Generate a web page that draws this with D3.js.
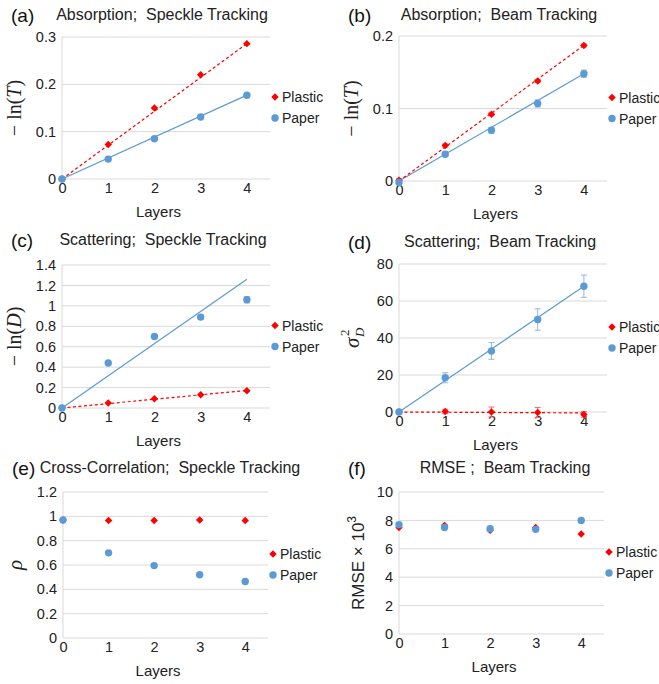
<!DOCTYPE html>
<html>
<head>
<meta charset="utf-8">
<script src="https://cdn.jsdelivr.net/npm/d3@7"></script>
<style>
  body { margin: 0; background: #fff; }
  svg { display: block; font-family: "Liberation Sans", Arial, sans-serif; }
  text { white-space: pre; }
</style>
</head>
<body>
<div id="chart"></div>
<script>
// x categories
const layers = [0, 1, 2, 3, 4];

// (a) absorption, speckle tracking
const absSpecklePlastic = [0, 0.073, 0.150, 0.220, 0.286];
const absSpecklePaper = [0, 0.042, 0.085, 0.131, 0.177];
const absSpeckleSlopes = { plastic: 0.0715, paper: 0.0443 };

// (b) absorption, beam tracking
const absBeamPlastic = [0.001, 0.049, 0.092, 0.138, 0.187];
const absBeamPlasticErr = [0.002, 0.002, 0.002, 0.002, 0.002];
const absBeamPaper = [-0.002, 0.037, 0.070, 0.107, 0.148];
const absBeamPaperErr = [0.002, 0.003, 0.004, 0.005, 0.005];
const absBeamSlopes = { plastic: 0.0468, paper: 0.037 };

// (c) scattering, speckle tracking
const scatSpecklePlastic = [0, 0.05, 0.09, 0.13, 0.17];
const scatSpecklePaper = [0, 0.44, 0.70, 0.89, 1.06];
const scatSpecklePaperErr = [0, 0.01, 0.01, 0.02, 0.03];
const scatSpeckleSlopes = { plastic: 0.043, paper: 0.315 };

// (d) scattering, beam tracking
const scatBeamPlastic = [0, 0.3, 0, -0.3, -1.3];
const scatBeamPlasticErr = [0.5, 1.2, 2.7, 2.7, 1.5];
const scatBeamPaper = [0, 18.5, 33, 50, 68];
const scatBeamPaperErr = [0.5, 2.7, 4.5, 5.8, 6];
const scatBeamSlopes = { plastic: -0.12, paper: 17 };

// (e) cross-correlation, speckle tracking
const ccSpecklePlastic = [0.97, 0.965, 0.965, 0.97, 0.965];
const ccSpecklePaper = [0.97, 0.70, 0.595, 0.52, 0.465];

// (f) RMSE, beam tracking
const rmseBeamPlastic = [7.5, 7.65, 7.3, 7.5, 7.05];
const rmseBeamPaper = [7.7, 7.5, 7.42, 7.37, 8.0];

// y tick labels
const ticksA = [0, 0.1, 0.2, 0.3];
const ticksB = [0, 0.1, 0.2];
const ticksC = [0, 0.2, 0.4, 0.6, 0.8, 1, 1.2, 1.4];
const ticksD = [0, 20, 40, 60, 80];
const ticksE = [0, 0.2, 0.4, 0.6, 0.8, 1, 1.2];
const ticksF = [0, 2, 4, 6, 8, 10];

const seriesNames = ["Plastic", "Paper"];
const red = "#FF0000", blue = "#5B9BD5";

const W = 659, H = 684;
const svg = d3.select("#chart").append("svg").attr("width", W).attr("height", H);

const panels = [
  { tag: "(a)", title: "Absorption;  Speckle Tracking", ylab: "lnT",
    box: [62, 270, 37, 179], titleX: 162, titleY: 20,
    ymax: 0.3, ticks: ticksA, plastic: absSpecklePlastic, paper: absSpecklePaper, slopes: absSpeckleSlopes },
  { tag: "(b)", title: "Absorption;  Beam Tracking", ylab: "lnT",
    box: [399, 607, 36, 181], titleX: 499, titleY: 20,
    ymax: 0.2, ticks: ticksB, plastic: absBeamPlastic, paper: absBeamPaper,
    plasticErr: absBeamPlasticErr, paperErr: absBeamPaperErr, slopes: absBeamSlopes },
  { tag: "(c)", title: "Scattering;  Speckle Tracking", ylab: "lnD",
    box: [62, 270, 265, 408], titleX: 163, titleY: 245,
    ymax: 1.4, ticks: ticksC, plastic: scatSpecklePlastic, paper: scatSpecklePaper,
    paperErr: scatSpecklePaperErr, slopes: scatSpeckleSlopes },
  { tag: "(d)", title: "Scattering;  Beam Tracking", ylab: "sigma",
    box: [399, 607, 264, 412], titleX: 500, titleY: 247,
    ymax: 80, ticks: ticksD, plastic: scatBeamPlastic, paper: scatBeamPaper,
    plasticErr: scatBeamPlasticErr, paperErr: scatBeamPaperErr, slopes: scatBeamSlopes },
  { tag: "(e)", title: "Cross-Correlation;  Speckle Tracking", ylab: "rho",
    box: [63, 268, 492, 638], titleX: 170, titleY: 473,
    ymax: 1.2, ticks: ticksE, plastic: ccSpecklePlastic, paper: ccSpecklePaper },
  { tag: "(f)", title: "RMSE ;  Beam Tracking", ylab: "rmse",
    box: [399, 604, 492, 634], titleX: 505, titleY: 473,
    ymax: 10, ticks: ticksF, plastic: rmseBeamPlastic, paper: rmseBeamPaper }
];

const fmt = d => String(d);
const serif = "Liberation Serif, DejaVu Serif, serif";

panels.forEach(p => {
  const [x0, x1, y0, y1] = p.box;
  const g = svg.append("g");
  const x = d3.scaleLinear().domain([0, 4.5]).range([x0, x1]);
  const y = d3.scaleLinear().domain([0, p.ymax]).range([y1, y0]);

  // gridlines
  g.selectAll(".grid").data(p.ticks).join("line")
    .attr("x1", x0).attr("x2", x1)
    .attr("y1", d => y(d)).attr("y2", d => y(d))
    .attr("stroke", "#D9D9D9").attr("stroke-width", 1);
  g.append("line").attr("x1", x0).attr("x2", x0).attr("y1", y0).attr("y2", y1)
    .attr("stroke", "#D9D9D9");

  // y axis
  const yAxis = g.append("g").attr("transform", `translate(${x0},0)`)
    .call(d3.axisLeft(y).tickValues(p.ticks).tickFormat(fmt).tickSize(0).tickPadding(6));
  yAxis.select(".domain").remove();
  yAxis.selectAll("text").attr("font-size", 14.5).attr("fill", "#222")
    .attr("font-family", "Liberation Sans, Arial, sans-serif");

  // x axis
  const xAxis = g.append("g").attr("transform", `translate(0,${y1})`)
    .call(d3.axisBottom(x).tickValues(layers).tickFormat(fmt).tickSize(0).tickPadding(4));
  xAxis.select(".domain").remove();
  xAxis.selectAll("text").attr("font-size", 14.5).attr("fill", "#222")
    .attr("font-family", "Liberation Sans, Arial, sans-serif");

  g.append("text").attr("x", (x0 + x(4)) / 2 + 4).attr("y", y1 + 38)
    .attr("text-anchor", "middle").attr("font-size", 15).attr("fill", "#222").text("Layers");

  // title and tag
  g.append("text").attr("x", p.titleX).attr("y", p.titleY).attr("text-anchor", "middle")
    .attr("font-size", 16).attr("fill", "#222").text(p.title);
  g.append("text").attr("x", x0 - 51).attr("y", p.titleY + 2)
    .attr("font-size", 19).attr("fill", "#111").text(p.tag);

  // y label
  const cy = (y0 + y1) / 2;
  const lx = x0 - 47;
  const yl = g.append("g").attr("transform", `translate(${lx},${cy}) rotate(-90)`);
  if (p.ylab === "lnT" || p.ylab === "lnD") {
    const t = yl.append("text").attr("text-anchor", "middle").attr("y", 6)
      .attr("font-family", serif).attr("font-size", 20).attr("fill", "#222");
    t.append("tspan").text("\u2212 ln(");
    t.append("tspan").attr("font-style", "italic").text(p.ylab === "lnT" ? "T" : "D");
    t.append("tspan").text(")");
  } else if (p.ylab === "sigma") {
    yl.append("text").attr("x", -10).attr("y", 7)
      .attr("font-family", serif).attr("font-size", 21).attr("font-style", "italic")
      .attr("fill", "#222").text("\u03C3");
    yl.append("text").attr("x", 2).attr("y", -3).attr("font-size", 13)
      .attr("font-family", serif).attr("fill", "#222").text("2");
    yl.append("text").attr("x", 1).attr("y", 12).attr("font-size", 13).attr("font-style", "italic")
      .attr("font-family", serif).attr("fill", "#222").text("D");
  } else if (p.ylab === "rho") {
    yl.append("text").attr("text-anchor", "middle").attr("y", 6)
      .attr("font-family", serif).attr("font-style", "italic")
      .attr("font-size", 21).attr("fill", "#222").text("\u03C1");
  } else {
    const t = yl.append("text").attr("text-anchor", "middle").attr("y", 12)
      .attr("font-size", 17).attr("fill", "#222");
    t.append("tspan").text("RMSE \u00D7 10");
    t.append("tspan").attr("font-size", 12).attr("dy", -8).text("3");
  }

  // trend lines
  if (p.slopes) {
    g.append("line").attr("x1", x(0)).attr("y1", y(0)).attr("x2", x(4)).attr("y2", y(4 * p.slopes.paper))
      .attr("stroke", blue).attr("stroke-width", 1.2);
    g.append("line").attr("x1", x(0)).attr("y1", y(0)).attr("x2", x(4)).attr("y2", y(4 * p.slopes.plastic))
      .attr("stroke", red).attr("stroke-width", 1.2).attr("stroke-dasharray", "3,2.5");
  }

  // error bars
  const errBars = (vals, errs, color) => {
    if (!errs) return;
    const eg = g.append("g").attr("stroke", color).attr("stroke-width", 1);
    layers.forEach((l, i) => {
      const e = errs[i];
      if (!e) return;
      const cx = x(l), ya = y(vals[i] + e), yb = y(vals[i] - e);
      eg.append("line").attr("x1", cx).attr("x2", cx).attr("y1", ya).attr("y2", yb);
      eg.append("line").attr("x1", cx - 3).attr("x2", cx + 3).attr("y1", ya).attr("y2", ya);
      eg.append("line").attr("x1", cx - 3).attr("x2", cx + 3).attr("y1", yb).attr("y2", yb);
    });
  };
  errBars(p.plastic, p.plasticErr, "#FF6666");
  errBars(p.paper, p.paperErr, "#8DB8E2");

  const diamond = d3.symbol().type(d3.symbolSquare).size(28);
  g.selectAll(".pl").data(p.plastic).join("path")
    .attr("d", diamond)
    .attr("transform", (d, i) => `translate(${x(layers[i])},${y(d)}) rotate(45)`)
    .attr("fill", red);
  g.selectAll(".pa").data(p.paper).join("circle")
    .attr("cx", (d, i) => x(layers[i])).attr("cy", d => y(d)).attr("r", 3.7)
    .attr("fill", blue);

  // legend
  const lgx = x1 + 5;
  const lgy = (y0 + y1) / 2 - 11;
  seriesNames.forEach((name, i) => {
    const ly = lgy + i * 21;
    if (i === 0) {
      g.append("path").attr("d", diamond).attr("transform", `translate(${lgx},${ly}) rotate(45)`).attr("fill", red);
    } else {
      g.append("circle").attr("cx", lgx).attr("cy", ly).attr("r", 3.7).attr("fill", blue);
    }
    g.append("text").attr("x", lgx + 7).attr("y", ly + 5).attr("font-size", 14)
      .attr("fill", "#222").text(name);
  });
});
</script>
</body>
</html>
